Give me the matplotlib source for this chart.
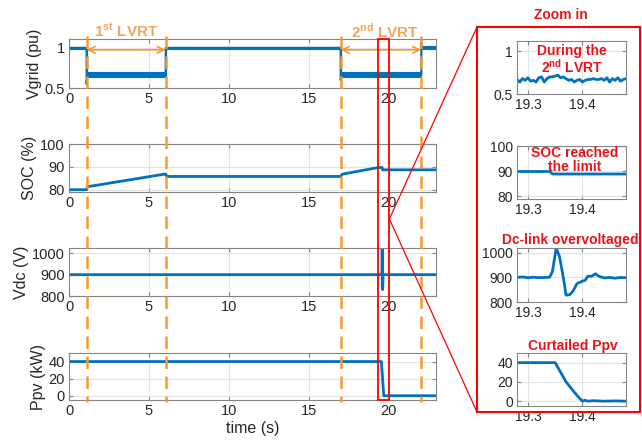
import numpy as np
import matplotlib
matplotlib.use('Agg')
import matplotlib.pyplot as plt
from matplotlib.patches import Rectangle
from matplotlib.lines import Line2D
import matplotlib.transforms as mtransforms

plt.rcParams['font.family'] = ['Liberation Sans', 'DejaVu Sans']
plt.rcParams['mathtext.fontset'] = 'custom'
plt.rcParams['mathtext.rm'] = 'Liberation Sans'
plt.rcParams['mathtext.bf'] = 'Liberation Sans:bold'

# ---- full run ----
vg_t = [0, 1.1, 1.1, 1.15, 6.05, 6.05, 17.0, 17.0, 17.05, 22.05, 22.05, 22.1, 23]
vg_v = [1.0, 1.0, 0.55, 0.67, 0.67, 1.0, 1.0, 0.60, 0.67, 0.67, 1.06, 1.0, 1.0]
band_t = [0, 1.1, 1.1, 6.05, 6.05, 17.0, 17.0, 22.05, 22.05, 23]
band_lo = [0.985, 0.985, 0.635, 0.635, 0.985, 0.985, 0.635, 0.635, 0.98, 0.98]
band_hi = [1.015, 1.015, 0.705, 0.705, 1.015, 1.015, 0.705, 0.705, 1.025, 1.025]

soc_t = [0, 1.1, 1.15, 6.05, 6.1, 17.0, 17.1, 19.35, 19.6, 19.62, 23]
soc_v = [80, 80, 81.3, 86.9, 85.8, 85.8, 86.8, 89.7, 89.7, 88.7, 88.7]

vdc_t = [0, 19.58, 19.6, 19.63, 19.66, 23]
vdc_v = [900, 900, 1020, 830, 900, 900]

ppv_t = [0, 19.55, 19.7, 23]
ppv_v = [40, 40, 0, 0]

lvrt_start = [1.1, 17.0]
lvrt_end = [6.05, 22.05]

# ---- zoomed window 19.28 - 19.48 s ----
vz_t = [19.280, 19.285, 19.290, 19.295, 19.300, 19.305, 19.310, 19.315, 19.320, 19.325,
        19.330, 19.335, 19.340, 19.345, 19.350, 19.355, 19.360, 19.365, 19.370, 19.375,
        19.380, 19.385, 19.390, 19.395, 19.400, 19.405, 19.410, 19.415, 19.420, 19.425,
        19.430, 19.435, 19.440, 19.445, 19.450, 19.455, 19.460, 19.465, 19.470, 19.475, 19.480]
vz_v = [0.67, 0.64, 0.68, 0.66, 0.69, 0.65, 0.66, 0.64, 0.69, 0.70,
        0.64, 0.68, 0.70, 0.70, 0.71, 0.72, 0.69, 0.70, 0.68, 0.66,
        0.67, 0.64, 0.66, 0.67, 0.64, 0.66, 0.67, 0.67, 0.68, 0.67,
        0.67, 0.68, 0.66, 0.69, 0.64, 0.68, 0.66, 0.69, 0.65, 0.67, 0.68]

socz_t = [19.28, 19.34, 19.345, 19.48]
socz_v = [89.9, 89.9, 88.9, 88.9]

vdcz_t = [19.28, 19.29, 19.30, 19.31, 19.32, 19.33, 19.34, 19.345, 19.352, 19.358, 19.365,
          19.37, 19.377, 19.383, 19.39, 19.40, 19.405, 19.41, 19.417, 19.424, 19.43,
          19.44, 19.45, 19.46, 19.47, 19.48]
vdcz_v = [900, 902, 899, 901, 899, 900, 901, 925, 1020, 985, 900,
          828, 830, 845, 875, 885, 888, 905, 905, 915, 905,
          898, 900, 897, 900, 899]

ppvz_t = [19.28, 19.35, 19.36, 19.37, 19.38, 19.39, 19.40, 19.405, 19.41, 19.42, 19.44, 19.46, 19.48]
ppvz_v = [40, 40, 30, 20, 13, 6, 0, 1, 0, 0.5, 0, 0.3, 0]

blue = '#0072BD'
orange = '#F39A30'
orange_txt = '#F2A55C'
red = '#FF0000'
red_txt = '#E8141A'

W, H = 642, 444
fig = plt.figure(figsize=(W / 100, H / 100), dpi=100)


def box(l, t, r, b):
    return [l / W, 1 - b / H, (r - l) / W, (b - t) / H]


def style(ax, fs):
    ax.grid(True, color='#e3e3e3', lw=0.8)
    ax.set_axisbelow(True)
    for s in ax.spines.values():
        s.set_color('#858585')
        s.set_linewidth(0.8)
    ax.tick_params(direction='in', length=3, color='#858585', labelsize=fs,
                   labelcolor='#262626', top=True, right=True, pad=3)


main_boxes = [box(69, 39, 436.5, 88), box(69, 144, 436.5, 192),
              box(69, 248, 436.5, 296), box(69, 353, 436.5, 400)]
zoom_boxes = [box(517, 41, 626, 94), box(517, 146, 626, 199),
              box(517, 248, 626, 302), box(517, 353, 626, 406)]

axm = [fig.add_axes(b) for b in main_boxes]
axz = [fig.add_axes(b) for b in zoom_boxes]

# main panels
axm[0].fill_between(band_t, band_lo, band_hi, color=blue, lw=0.8)
axm[0].plot(vg_t, vg_v, color=blue, lw=1.5)
axm[1].plot(soc_t, soc_v, color=blue, lw=2)
axm[2].plot(vdc_t, vdc_v, color=blue, lw=2)
axm[3].plot(ppv_t, ppv_v, color=blue, lw=2)

ylims = [(0.5, 1.11), (79, 100), (800, 1025), (-5, 50)]
yticks = [[0.5, 1], [80, 90, 100], [800, 900, 1000], [0, 20, 40]]
ytl = [['0.5', '1'], ['80', '90', '100'], ['800', '900', '1000'], ['0', '20', '40']]
ylabels = ['Vgrid (pu)', 'SOC (%)', 'Vdc (V)', 'Ppv (kW)']

for i, ax in enumerate(axm):
    style(ax, 10.5)
    ax.set_xlim(0, 23)
    ax.set_ylim(*ylims[i])
    ax.set_xticks([0, 5, 10, 15, 20])
    ax.set_yticks(yticks[i])
    ax.set_yticklabels(ytl[i])
    ax.set_ylabel(ylabels[i], fontsize=11.5, color='#262626', labelpad=2)
axm[3].set_xlabel('time (s)', fontsize=11.5, color='#262626', labelpad=2)

# LVRT arrows and labels
for s, e, lab in zip(lvrt_start, lvrt_end, ['1$^{\\mathbf{st}}$ LVRT', '2$^{\\mathbf{nd}}$ LVRT']):
    axm[0].annotate('', xy=(s, 0.975), xytext=(e, 0.975),
                    arrowprops=dict(arrowstyle='<->', color=orange, lw=1.2,
                                    shrinkA=0, shrinkB=0, mutation_scale=12))
axm[0].text(3.57, 1.165, '1$^{\\mathbf{st}}$ LVRT', transform=axm[0].get_xaxis_transform(),
            ha='center', va='center', color=orange_txt, fontsize=11, fontweight='bold')
axm[0].text(19.8, 1.165, '2$^{\\mathbf{nd}}$ LVRT', transform=axm[0].get_xaxis_transform(),
            ha='center', va='center', color=orange_txt, fontsize=11, fontweight='bold')

# zoom panels
axz[0].plot(vz_t, vz_v, color=blue, lw=2)
axz[1].plot(socz_t, socz_v, color=blue, lw=2)
axz[2].plot(vdcz_t, vdcz_v, color=blue, lw=2)
axz[3].plot(ppvz_t, ppvz_v, color=blue, lw=2)

zylims = [(0.5, 1.12), (79, 100), (800, 1020), (-5, 50)]
for i, ax in enumerate(axz):
    style(ax, 10)
    ax.set_xlim(19.28, 19.48)
    ax.set_ylim(*zylims[i])
    ax.set_xticks([19.3, 19.4])
    ax.set_xticklabels(['19.3', '19.4'])
    ax.set_yticks(yticks[i])
    ax.set_yticklabels(ytl[i])

axz[0].text(0.5, 0.65, 'During the\n2$^{\\mathbf{nd}}$ LVRT', transform=axz[0].transAxes,
            ha='center', va='center', color=red_txt, fontsize=10, fontweight='bold',
            linespacing=1.0)
axz[1].text(0.53, 0.745, 'SOC reached\nthe limit', transform=axz[1].transAxes,
            ha='center', va='center', color=red_txt, fontsize=10, fontweight='bold',
            linespacing=1.0)
axz[2].text(0.49, 1.15, 'Dc-link overvoltaged', transform=axz[2].transAxes,
            ha='center', va='center', color=red_txt, fontsize=10, fontweight='bold')
axz[3].text(0.51, 1.13, 'Curtailed Ppv', transform=axz[3].transAxes,
            ha='center', va='center', color=red_txt, fontsize=10, fontweight='bold')

fig.text(561 / W, 1 - 15 / H, 'Zoom in', ha='center', va='center', color=red_txt,
         fontsize=10, fontweight='bold')

# orange dashed lines through all main panels
bt = mtransforms.blended_transform_factory(axm[0].transData, fig.transFigure)
for x in lvrt_start + lvrt_end:
    fig.add_artist(Line2D([x, x], [1 - 36 / H, 1 - 402 / H], transform=bt, color=orange,
                          lw=1.8, dashes=(5, 3), zorder=5))

# red selection rectangle
sel = (19.35, 20.05)
fig.add_artist(Rectangle((sel[0], 1 - 400 / H), sel[1] - sel[0], (400 - 39) / H, transform=bt,
                         fill=False, edgecolor=red, lw=1.3, zorder=6))

# zoom box and connector lines
zl, zt, zr, zb = 477 / W, 1 - 27 / H, 640 / W, 1 - 412 / H
fig.add_artist(Rectangle((zl, zb), zr - zl, zt - zb, transform=fig.transFigure,
                         fill=False, edgecolor=red, lw=1.5, zorder=6))
apex = fig.transFigure.inverted().transform(axm[0].transData.transform((sel[1], 0)))[0]
ay = 1 - 219 / H
fig.add_artist(Line2D([apex, zl], [ay, zt], transform=fig.transFigure, color=red, lw=0.9, zorder=6))
fig.add_artist(Line2D([apex, zl], [ay, zb], transform=fig.transFigure, color=red, lw=0.9, zorder=6))

fig.savefig('out.png', dpi=100)
